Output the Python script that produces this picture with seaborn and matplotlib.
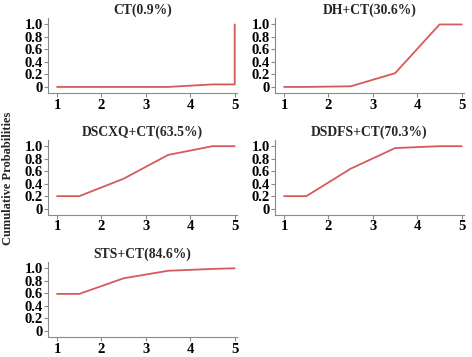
import matplotlib
matplotlib.use("Agg")
import matplotlib.pyplot as plt
import pandas as pd
import seaborn as sns

# rank positions where the cumulative curves bend
RANKS = [1, 1.5, 2.5, 3.5, 4.5, 5]

CT = [0.0, 0.0, 0.0, 0.0, 0.04, 0.04]
DH_CT = [0.0, 0.0, 0.01, 0.22, 1.0, 1.0]
DSCXQ_CT = [0.2, 0.2, 0.48, 0.86, 1.0, 1.0]
DSDFS_CT = [0.2, 0.2, 0.64, 0.97, 1.0, 1.0]
STS_CT = [0.59, 0.59, 0.84, 0.96, 0.99, 1.0]

TITLES = ["CT(0.9%)", "DH+CT(30.6%)", "DSCXQ+CT(63.5%)",
          "DSDFS+CT(70.3%)", "STS+CT(84.6%)"]
SERIES = [CT, DH_CT, DSCXQ_CT, DSDFS_CT, STS_CT]

# CT jumps straight up to 1.0 at the last rank
CT_EXTRA_X = [5]
CT_EXTRA_Y = [1.0]

Y_TICKS = [0, 0.2, 0.4, 0.6, 0.8, 1.0]
Y_LABELS = ["0", "0.2", "0.4", "0.6", "0.8", "1.0"]
X_TICKS = [1, 2, 3, 4, 5]

LINE_COLOR = "#d65a5a"
AXIS_COLOR = "#8a8a8a"

sns.set_style("ticks")
plt.rcParams["font.family"] = ["Liberation Serif", "DejaVu Serif"]
plt.rcParams["font.weight"] = "bold"

fig = plt.figure(figsize=(4.72, 3.57), dpi=100)

col_left = [0.102, 0.583]
ax_w = 0.40
row_bottom = [0.739, 0.398, 0.056]
ax_h = 0.21

for i, (title, vals) in enumerate(zip(TITLES, SERIES)):
    r, c = divmod(i, 2)
    ax = fig.add_axes([col_left[c], row_bottom[r], ax_w, ax_h])
    x = list(RANKS)
    y = list(vals)
    if i == 0:
        x += CT_EXTRA_X
        y += CT_EXTRA_Y
    df = pd.DataFrame({"rank": x, "prob": y})
    sns.lineplot(data=df, x="rank", y="prob", ax=ax, sort=False,
                 color=LINE_COLOR, linewidth=1.3, estimator=None)
    ax.set_xlim(0.8, 5.05)
    ax.set_ylim(-0.1, 1.1)
    ax.set_xticks(X_TICKS)
    ax.set_xticklabels([str(t) for t in X_TICKS])
    ax.set_yticks(Y_TICKS)
    ax.set_yticklabels(Y_LABELS)
    ax.set_xlabel("")
    ax.set_ylabel("")
    ax.set_title(title, fontsize=9.8, fontweight="bold", pad=3)
    sns.despine(ax=ax)
    for s in ("left", "bottom"):
        ax.spines[s].set_color(AXIS_COLOR)
        ax.spines[s].set_linewidth(0.8)
    ax.tick_params(axis="both", colors=AXIS_COLOR, labelcolor="black",
                   labelsize=10.5, length=3, width=0.8, pad=1)
    for lab in ax.get_xticklabels() + ax.get_yticklabels():
        lab.set_fontweight("bold")

fig.text(0.018, 0.5, "Cumulative Probabilities", rotation=90,
         fontsize=9, fontweight="bold", va="center", ha="center")

fig.savefig("out.png", dpi=100)
